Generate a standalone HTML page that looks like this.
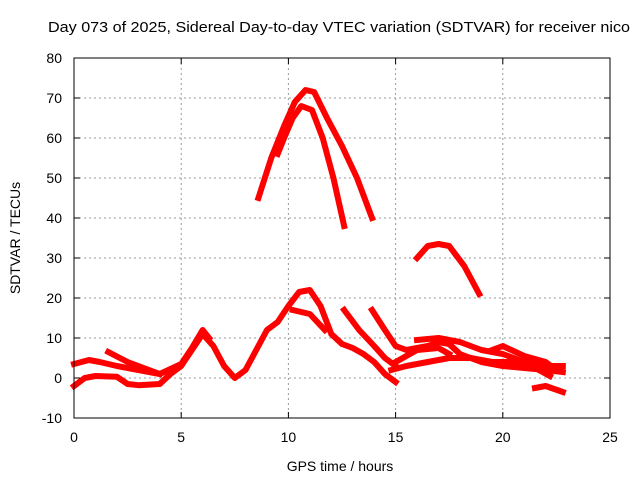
<!DOCTYPE html>
<html><head><meta charset="utf-8"><style>
body{margin:0;background:#fff}
svg text{font-family:"Liberation Sans",sans-serif;font-size:14px;fill:#000}
</style></head><body>
<svg id="c" width="640" height="480">
<text x="48" y="32" textLength="582" lengthAdjust="spacingAndGlyphs" style="font-size:15px">Day 073 of 2025, Sidereal Day-to-day VTEC variation (SDTVAR) for receiver nico</text>
<text x="340" y="471" text-anchor="middle">GPS time / hours</text>
<text transform="translate(20,238) rotate(-90)" text-anchor="middle">SDTVAR / TECUs</text>
<g id="grid"></g><g id="marks"></g>
<rect x="74" y="58" width="536" height="360" fill="none" stroke="#000"/>
<g id="ticks"></g>
</svg>
<script>
const xTicks=[0,5,10,15,20,25];
const yTicks=[-10,0,10,20,30,40,50,60,70,80];
const trackA=[[8.6,45],[9.2,55],[9.8,63],[10.3,69],[10.8,72],[11.2,71.5],[11.8,65],[12.5,58],[13.2,50],[13.9,40]];
const trackB=[[9.5,56],[9.8,60],[10.2,65],[10.6,68],[11.1,67],[11.6,60],[12.1,50],[12.6,38]];
const trackC=[[16.0,30],[16.5,33],[17.0,33.5],[17.5,33],[18.2,28],[18.9,21]];
const trackD=[[0,-2],[0.5,0],[1,0.5],[2,0.3],[2.5,-1.5],[3,-1.8],[4,-1.5],[4.5,1],[5,3],[5.5,7],[6,11],[6.5,8],[7,3],[7.5,0],[8,2],[8.5,7],[9,12],[9.5,14],[10,18],[10.5,21.5],[11,22],[11.5,18],[12,11],[12.5,8.5],[13,7.5],[13.5,6],[14,4],[14.5,1],[15,-1]];
const trackE=[[0,3.5],[0.7,4.5],[1.2,4],[2,3],[3,2],[4,1],[5,3.5],[5.5,7.5],[6,12],[6.3,10]];
const trackF=[[1.6,6.5],[2.5,4],[3.5,2],[4,1]];
const trackG=[[10.2,17],[11,16],[11.7,12]];
const trackH=[[12.6,17],[13.3,12],[14,8],[14.5,5],[15,3]];
const trackI=[[13.9,17],[14.5,12],[15,8],[15.5,7],[16.5,8],[17,9],[17.5,8.5],[18,6],[19,4],[20,3],[21,2.5],[22,2],[22.8,1.5]];
const trackJ=[[14.8,2],[15.5,3],[16.5,4],[17.5,5],[18.5,5],[19.5,4],[21,4],[22.2,0.5]];
const trackK=[[16,9.5],[17,10],[18,9],[19,7],[20,6],[21,4],[22,3],[22.8,3]];
const trackL=[[19.5,7],[20,8],[21,5.5],[22,4],[22.5,2]];
const trackM=[[21.5,-2.5],[22,-2],[22.8,-3.5]];
const trackN=[[15,4],[16,7],[17,7.5],[17.5,6]];
const tracks=[trackA,trackB,trackC,trackD,trackE,trackF,trackG,trackH,trackI,trackJ,trackK,trackL,trackM,trackN];
const NS="http://www.w3.org/2000/svg";
const X=h=>74+h*536/25, Y=v=>418-(v+10)*4;
const grid=document.getElementById('grid'),ticks=document.getElementById('ticks'),marks=document.getElementById('marks');
function mk(tag,attrs,parent){const e=document.createElementNS(NS,tag);for(const k in attrs)e.setAttribute(k,attrs[k]);parent.appendChild(e);return e;}
xTicks.forEach(t=>{const x=X(t);
 if(t>0&&t<25){const g=mk('line',{x1:x,x2:x,y1:58,y2:418,stroke:'#999','stroke-dasharray':'2,3'},grid);
 
 }
 mk('line',{x1:x,x2:x,y1:418,y2:412,stroke:'#000'},ticks);mk('line',{x1:x,x2:x,y1:58,y2:64,stroke:'#000'},ticks);
 const l=mk('text',{x:x,y:442,'text-anchor':'middle'},ticks);l.textContent=t;
 
 });
yTicks.forEach(t=>{const y=Y(t);
 if(t>-10&&t<80){const g=mk('line',{x1:74,x2:610,y1:y,y2:y,stroke:'#999','stroke-dasharray':'2,3'},grid);
 
 }
 mk('line',{x1:74,x2:80,y1:y,y2:y,stroke:'#000'},ticks);mk('line',{x1:604,x2:610,y1:y,y2:y,stroke:'#000'},ticks);
 const l=mk('text',{x:62,y:y+5,'text-anchor':'end'},ticks);l.textContent=t;
 
 });
tracks.forEach(tr=>{const p=mk('polyline',{points:tr.map(d=>X(d[0])+','+Y(d[1])).join(' '),fill:'none',stroke:'#f00','stroke-width':6,'stroke-linejoin':'round','stroke-linecap':'square'},marks);
 
 });
</script>
</body></html>
